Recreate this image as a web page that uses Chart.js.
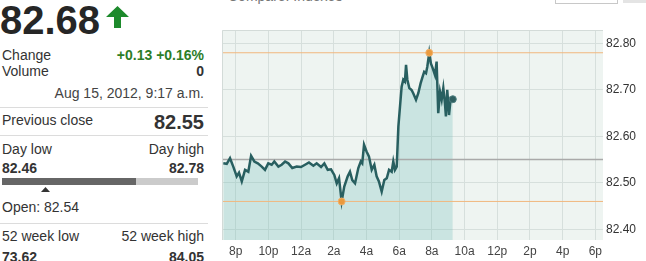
<!DOCTYPE html>
<html>
<head>
<meta charset="utf-8">
<script src="https://cdn.jsdelivr.net/npm/chart.js@4"></script>
<style>
  html, body { margin: 0; padding: 0; background: #fff; }
  body { width: 646px; height: 261px; position: relative; overflow: hidden; font-family: "Liberation Sans", Arial, sans-serif; color: #333; }
  .t { position: absolute; white-space: nowrap; }
  .l { left: 2px; }
  .r { left: 0; width: 204px; text-align: right; }
  .f14 { font-size: 14px; line-height: 14px; }
  .b { font-weight: bold; }
  .rule { position: absolute; left: 0; width: 208px; height: 1px; background: #dcdcdc; }
  #chartBox { position: absolute; left: 216px; top: 24px; width: 430px; height: 237px; }
</style>
</head>
<body>
<div class="t b" style="left:0;top:0;font-size:40px;line-height:40px;color:#262626;">82.68</div>
<svg class="t" style="left:106px;top:6px" width="23" height="22" viewBox="0 0 23 22">
  <polygon points="11.5,0 23,11 15,11 15,22 8,22 8,11 0,11" fill="#1d8a2c"/>
</svg>

<div class="t l f14" style="top:47.5px">Change</div>
<div class="t r f14 b" style="top:47.5px;color:#2d7d27">+0.13 +0.16%</div>
<div class="t l f14" style="top:64.2px">Volume</div>
<div class="t r f14 b" style="top:64.2px">0</div>
<div class="t r f14" style="top:85.5px;color:#444">Aug 15, 2012, 9:17 a.m.</div>
<div class="rule" style="top:107px"></div>

<div class="t l f14" style="top:112.5px">Previous close</div>
<div class="t r b" style="top:112.4px;font-size:20px;line-height:20px">82.55</div>
<div class="rule" style="top:135px"></div>

<div class="t l f14" style="top:141.5px">Day low</div>
<div class="t r f14" style="top:141.5px">Day high</div>
<div class="t l f14 b" style="top:160.5px">82.46</div>
<div class="t r f14 b" style="top:160.5px">82.78</div>
<div class="t" style="left:2px;top:178px;width:134px;height:7px;background:#666"></div>
<div class="t" style="left:136px;top:178px;width:62px;height:7px;background:#cbcbcb"></div>
<svg class="t" style="left:41px;top:187px" width="9" height="5" viewBox="0 0 9 5">
  <polygon points="4.5,0 9,5 0,5" fill="#333"/>
</svg>
<div class="t l f14" style="top:199.9px">Open: 82.54</div>
<div class="rule" style="top:223px"></div>

<div class="t l f14" style="top:229.2px">52 week low</div>
<div class="t r f14" style="top:229.2px">52 week high</div>
<div class="t l f14 b" style="top:249.9px">73.62</div>
<div class="t r f14 b" style="top:249.9px">84.05</div>

<div class="t" style="left:228px;top:-11px;font-size:14px;line-height:14px;color:#777">Compare: Indexes</div>
<div class="t" style="left:555px;top:-10px;width:61px;height:12px;border:1px solid #c8c8c8;background:#fff"></div>
<div class="t" style="left:623px;top:-10px;width:23px;height:13px;background:#e4e4e4"></div>

<div id="chartBox"><canvas id="stockChart" width="430" height="237"></canvas></div>

<script>
// intraday quotes, hours from midnight (negative = previous evening)
var times = [
  -4.76, -4.55, -4.35, -4.15, -3.94, -3.80, -3.63, -3.43, -3.23, -3.06,
  -2.86, -2.65, -2.41, -2.21, -2.01, -1.80, -1.64, -1.39, -1.19, -0.98,
  -0.78, -0.54, -0.27, -0.01, 0.24, 0.48, 0.75, 0.95, 1.22, 1.42,
  1.63, 1.83, 2.03, 2.18, 2.32, 2.48, 2.64, 2.85, 2.99, 3.13,
  3.30, 3.50, 3.65, 3.74, 3.85, 4.01, 4.15, 4.32, 4.48, 4.62,
  4.76, 4.93, 5.09, 5.24, 5.38, 5.54, 5.64, 5.74, 5.85, 5.95,
  6.05, 6.15, 6.25, 6.35, 6.42, 6.50, 6.62, 6.76, 6.86, 7.03,
  7.17, 7.31, 7.44, 7.53, 7.64, 7.72, 7.84, 7.94, 8.05, 8.19,
  8.29, 8.39, 8.50, 8.60, 8.70, 8.80, 8.86, 8.94, 9.05, 9.15,
  9.28
];
var prices = [
  82.542, 82.541, 82.553, 82.535, 82.514, 82.522, 82.503, 82.528, 82.524, 82.558,
  82.546, 82.542, 82.535, 82.528, 82.542, 82.539, 82.546, 82.535, 82.539, 82.546,
  82.542, 82.532, 82.535, 82.534, 82.539, 82.544, 82.537, 82.542, 82.534, 82.542,
  82.528, 82.529, 82.517, 82.499, 82.510, 82.460, 82.492, 82.514, 82.524, 82.506,
  82.499, 82.532, 82.546, 82.542, 82.582, 82.567, 82.557, 82.528, 82.539, 82.514,
  82.503, 82.481, 82.506, 82.510, 82.528, 82.524, 82.546, 82.528, 82.535, 82.621,
  82.664, 82.707, 82.722, 82.718, 82.754, 82.722, 82.704, 82.700, 82.693, 82.679,
  82.693, 82.714, 82.729, 82.739, 82.736, 82.750, 82.780, 82.757, 82.747, 82.732,
  82.761, 82.650, 82.696, 82.679, 82.704, 82.671, 82.643, 82.700, 82.646, 82.682,
  82.680
];
var previousClose = 82.55;
var dayHigh = 82.78;
var dayLow = 82.46;

var xTickHours = [-4, -2, 0, 2, 4, 6, 8, 10, 12, 14, 16, 18];
var xTickLabels = ['8p', '10p', '12a', '2a', '4a', '6a', '8a', '10a', '12p', '2p', '4p', '6p'];
var yTicks = [82.40, 82.50, 82.60, 82.70, 82.80];
var xMin = -4.84, xMax = 18.47;
var yMin = 82.377, yMax = 82.829;

var points = times.map(function (t, i) { return {x: t, y: prices[i]}; });
var highIdx = prices.indexOf(dayHigh);
var lowIdx = prices.indexOf(dayLow);
var last = points[points.length - 1];

function flatLine(v) {
  return [{x: xMin, y: v}, {x: xMax, y: v}];
}

var plotBackground = {
  id: 'plotBackground',
  beforeDraw: function (chart) {
    var a = chart.chartArea, ctx = chart.ctx;
    ctx.save();
    ctx.fillStyle = '#eef4f1';
    ctx.fillRect(a.left, a.top, a.right - a.left, a.bottom - a.top);
    ctx.restore();
  },
  afterDraw: function (chart) {
    var a = chart.chartArea, ctx = chart.ctx;
    ctx.save();
    ctx.strokeStyle = '#d3dbd8';
    ctx.lineWidth = 1;
    ctx.beginPath();
    ctx.moveTo(a.left + 0.5, a.bottom);
    ctx.lineTo(a.left + 0.5, a.top + 0.5);
    ctx.lineTo(a.right, a.top + 0.5);
    ctx.stroke();
    ctx.restore();
  }
};

var context = document.getElementById('stockChart').getContext('2d');
var myChart = new Chart(context, {
  type: 'line',
  data: {
    datasets: [
      {
        data: points,
        borderColor: '#285f60',
        borderWidth: 2.5,
        backgroundColor: 'rgba(110, 188, 182, 0.28)',
        fill: 'start',
        pointRadius: 0,
        tension: 0,
        order: 2
      },
      {
        data: flatLine(previousClose),
        borderColor: '#a9a9a9',
        borderWidth: 1.5,
        pointRadius: 0,
        fill: false,
        order: 3
      },
      {
        data: flatLine(dayHigh),
        borderColor: '#f1b77e',
        borderWidth: 1,
        pointRadius: 0,
        fill: false,
        order: 3
      },
      {
        data: flatLine(dayLow),
        borderColor: '#f1b77e',
        borderWidth: 1,
        pointRadius: 0,
        fill: false,
        order: 3
      },
      {
        type: 'scatter',
        data: [points[highIdx], points[lowIdx]],
        pointRadius: 3.5,
        pointBackgroundColor: '#ea9a3e',
        pointBorderColor: '#f0b36e',
        pointBorderWidth: 1,
        order: 1
      },
      {
        type: 'scatter',
        data: [last],
        pointRadius: 3.5,
        pointBackgroundColor: '#2f5f60',
        pointBorderColor: '#4f7f80',
        pointBorderWidth: 1,
        order: 1
      }
    ]
  },
  options: {
    responsive: false,
    animation: false,
    layout: { padding: { left: 6, top: 6, right: 0, bottom: 0 } },
    plugins: {
      legend: { display: false },
      tooltip: { enabled: false },
      filler: { drawTime: 'beforeDatasetsDraw' }
    },
    scales: {
      x: {
        type: 'linear',
        min: xMin,
        max: xMax,
        afterBuildTicks: function (scale) {
          scale.ticks = xTickHours.map(function (v) { return {value: v}; });
        },
        afterFit: function (scale) {
          scale.height = 21;
          scale.paddingLeft = 0;
          scale.paddingRight = 0;
        },
        grid: { color: '#d6dfdc', drawTicks: false },
        border: { display: false },
        ticks: {
          padding: 4,
          color: '#444',
          font: { family: 'Liberation Sans', size: 12 },
          maxRotation: 0,
          autoSkip: false,
          callback: function (v, i) { return xTickLabels[i]; }
        }
      },
      y: {
        position: 'right',
        min: yMin,
        max: yMax,
        afterBuildTicks: function (scale) {
          scale.ticks = yTicks.map(function (v) { return {value: v}; });
        },
        afterFit: function (scale) {
          scale.width = 43;
          scale.paddingTop = 0;
          scale.paddingBottom = 0;
        },
        grid: { color: '#d6dfdc', drawTicks: false },
        border: { display: false },
        ticks: {
          padding: 3,
          color: '#333',
          font: { family: 'Liberation Sans', size: 12 },
          callback: function (v) { return v.toFixed(2); }
        }
      }
    }
  },
  plugins: [plotBackground]
});
</script>
</body>
</html>
